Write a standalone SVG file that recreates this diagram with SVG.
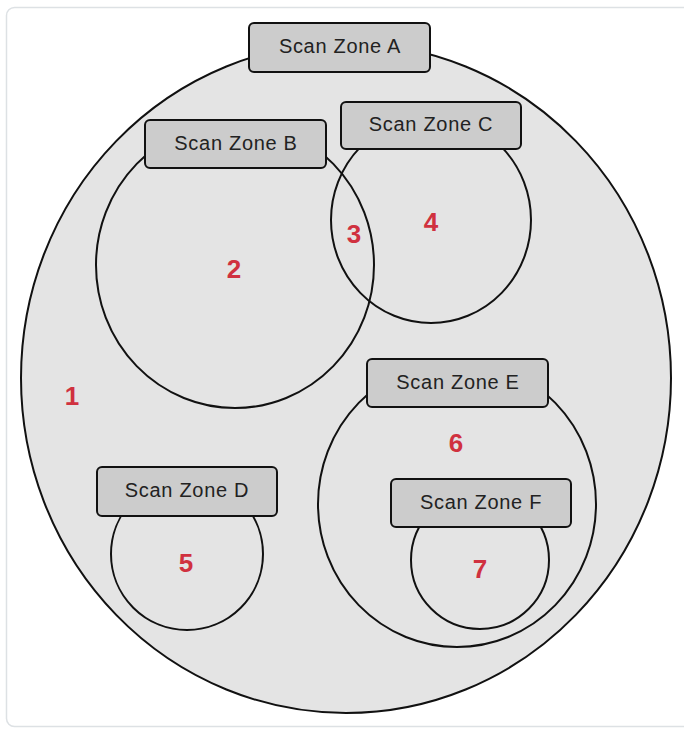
<svg xmlns="http://www.w3.org/2000/svg" width="684" height="730" viewBox="0 0 684 730">
<style>
.zone{fill:none;stroke:#111;stroke-width:2}
.box{fill:#cccccc;stroke:#111;stroke-width:2}
.lbl{font-family:"Liberation Sans",Arial,sans-serif;font-size:20px;letter-spacing:0.7px;fill:#222;text-anchor:middle}
.num{font-family:"Liberation Sans",Arial,sans-serif;font-size:26px;font-weight:bold;fill:#d0313f;text-anchor:middle}
</style>
<rect x="0" y="0" width="684" height="730" fill="#fff"/>
<rect x="6.5" y="7.5" width="700" height="719" rx="8" fill="#fff" stroke="#dde1e4" stroke-width="1.5"/>
<g id="zoneA">
<ellipse cx="346" cy="378" rx="325" ry="335" fill="#e4e4e4" stroke="#111" stroke-width="2"/>
</g>
<g id="zoneB"><ellipse class="zone" cx="235" cy="265" rx="139" ry="143"/></g>
<g id="zoneC"><ellipse class="zone" cx="431" cy="220" rx="100" ry="103"/></g>
<g id="zoneD"><ellipse class="zone" cx="187" cy="554" rx="76" ry="76"/></g>
<g id="zoneE"><ellipse class="zone" cx="457" cy="504" rx="139" ry="143"/></g>
<g id="zoneF"><ellipse class="zone" cx="480" cy="560" rx="69" ry="69"/></g>
<g id="labelA"><rect class="box" x="249" y="23" width="181" height="49" rx="5"/><text class="lbl" x="340" y="52.5">Scan Zone A</text></g>
<g id="labelB"><rect class="box" x="145" y="120" width="181" height="48" rx="5"/><text class="lbl" x="236" y="149.5">Scan Zone B</text></g>
<g id="labelC"><rect class="box" x="341" y="102" width="180" height="47" rx="5"/><text class="lbl" x="431" y="131">Scan Zone C</text></g>
<g id="labelD"><rect class="box" x="97" y="467" width="180" height="49" rx="5"/><text class="lbl" x="187" y="496.5">Scan Zone D</text></g>
<g id="labelE"><rect class="box" x="367" y="359" width="181" height="48" rx="5"/><text class="lbl" x="458" y="388.5">Scan Zone E</text></g>
<g id="labelF"><rect class="box" x="391" y="479" width="180" height="48" rx="5"/><text class="lbl" x="481" y="508.5">Scan Zone F</text></g>
<g id="regions">
<text class="num" x="72" y="405">1</text>
<text class="num" x="234" y="278">2</text>
<text class="num" x="354" y="243">3</text>
<text class="num" x="431" y="231">4</text>
<text class="num" x="186" y="572">5</text>
<text class="num" x="456" y="452">6</text>
<text class="num" x="480" y="578">7</text>
</g>
</svg>
